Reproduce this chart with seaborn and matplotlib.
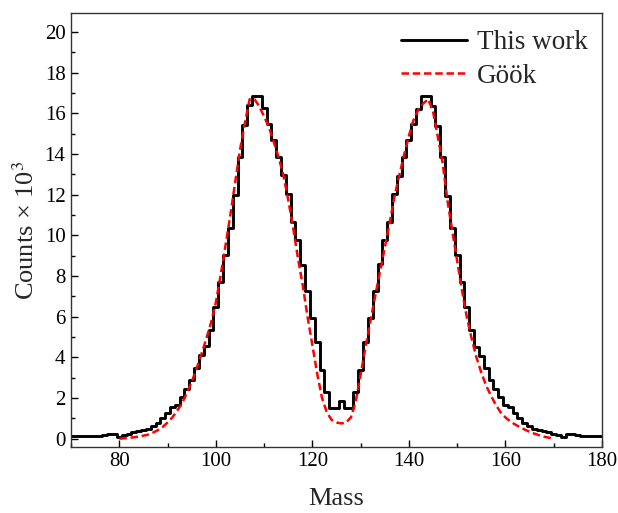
import numpy as np
import pandas as pd
import matplotlib
matplotlib.use("Agg")
import matplotlib.pyplot as plt
import seaborn as sns
from matplotlib.ticker import MultipleLocator

# ---- data (counts in units of 10^3) ----
mass_this = list(range(70, 181))
counts_this = [
    0.13, 0.13, 0.13, 0.13, 0.13, 0.13, 0.15, 0.18, 0.24, 0.22,   # 70-79
    0.10, 0.20, 0.25, 0.32, 0.38, 0.44, 0.49, 0.61, 0.77, 1.02,   # 80-89
    1.26, 1.56, 1.67, 2.05, 2.46, 2.90, 3.47, 4.10, 4.54, 5.36,   # 90-99
    6.50, 7.73, 9.04, 10.38, 11.99, 13.87, 15.43, 16.41, 16.85, 16.85,  # 100-109
    16.26, 15.49, 14.67, 13.88, 12.95, 12.05, 10.65, 9.75, 8.56, 7.25,  # 110-119
    5.94, 4.76, 3.37, 2.30, 1.51, 1.51, 1.84, 1.51, 1.51, 2.30,   # 120-129
    3.40, 4.76, 5.96, 7.25, 8.57, 9.75, 10.65, 12.05, 12.91, 13.85,  # 130-139
    14.70, 15.49, 16.22, 16.85, 16.85, 16.39, 15.40, 13.88, 11.96, 10.36,  # 140-149
    9.02, 7.71, 6.48, 5.33, 4.51, 4.08, 3.47, 2.90, 2.46, 2.05,   # 150-159
    1.67, 1.56, 1.26, 1.02, 0.77, 0.61, 0.49, 0.44, 0.38, 0.32,   # 160-169
    0.25, 0.20, 0.10, 0.22, 0.24, 0.18, 0.15, 0.13, 0.13, 0.13,   # 170-179
    0.13,                                                          # 180
]

mass_gook = list(range(80, 171))
counts_gook = [
    0.00, 0.02, 0.04, 0.07, 0.10, 0.15, 0.20, 0.30, 0.42, 0.58,   # 80-89
    0.80, 1.05, 1.38, 1.75, 2.25, 2.80, 3.45, 4.15, 4.90, 5.70,   # 90-99
    6.70, 8.05, 9.50, 11.00, 12.60, 14.20, 15.50, 16.70, 16.70, 16.35,  # 100-109
    15.85, 15.32, 14.60, 13.85, 12.95, 11.75, 10.40, 8.90, 7.55, 6.00,  # 110-119
    4.60, 3.20, 2.00, 1.30, 0.92, 0.80, 0.75, 0.80, 1.05, 1.85,   # 120-129
    3.15, 4.50, 5.75, 7.00, 8.20, 9.40, 10.60, 11.90, 12.95, 13.95,  # 130-139
    14.90, 15.70, 16.20, 16.50, 16.70, 16.10, 14.85, 13.55, 11.70, 10.20,  # 140-149
    8.75, 7.30, 5.98, 4.93, 4.00, 3.25, 2.62, 2.12, 1.67, 1.30,   # 150-159
    1.05, 0.85, 0.70, 0.57, 0.45, 0.34, 0.25, 0.17, 0.10, 0.05,   # 160-169
    0.00,                                                          # 170
]

legend_labels = ["This work", "Göök"]
x_label = "Mass"
y_label = "Counts \u00d7 10$^{3}$"

df_this = pd.DataFrame({"mass": mass_this, "counts": counts_this})
df_gook = pd.DataFrame({"mass": mass_gook, "counts": counts_gook})

sns.set_theme(style="ticks")
plt.rcParams["font.family"] = ["Liberation Serif", "DejaVu Serif"]
plt.rcParams["mathtext.fontset"] = "stix"

fig = plt.figure(figsize=(6.18, 5.13), dpi=100)
ax = fig.add_axes([0.115, 0.129, 0.859, 0.846])

sns.lineplot(data=df_this, x="mass", y="counts", ax=ax, color="black",
             linewidth=2.1, drawstyle="steps-mid", label=legend_labels[0])
sns.lineplot(data=df_gook, x="mass", y="counts", ax=ax, color="#ff0000",
             linewidth=1.8, dashes=False, label=legend_labels[1])
ax.lines[1].set_dashes([3.0, 1.5])

ax.set_xlim(70, 180)
ax.set_ylim(-0.4, 20.95)
ax.xaxis.set_major_locator(MultipleLocator(20))
ax.xaxis.set_minor_locator(MultipleLocator(10))
ax.yaxis.set_major_locator(MultipleLocator(2))
ax.yaxis.set_minor_locator(MultipleLocator(1))
ax.tick_params(which="both", direction="in", top=False, right=False,
               labelsize=15, colors="black")
ax.tick_params(which="major", length=5, width=1.0, pad=4)
ax.tick_params(which="minor", length=2.8, width=1.0)
for s in ax.spines.values():
    s.set_visible(True)
    s.set_color("#333333")
    s.set_linewidth(1.0)

ax.set_xlabel(x_label, fontsize=19, labelpad=12)
ax.set_ylabel(y_label, fontsize=19, labelpad=4)

leg = ax.legend(loc="upper right", frameon=False, fontsize=19.5,
                handlelength=2.45, handletextpad=0.35, labelspacing=0.3,
                borderaxespad=0.25, bbox_to_anchor=(1.006, 1.0))

fig.savefig("out.png", dpi=100)
